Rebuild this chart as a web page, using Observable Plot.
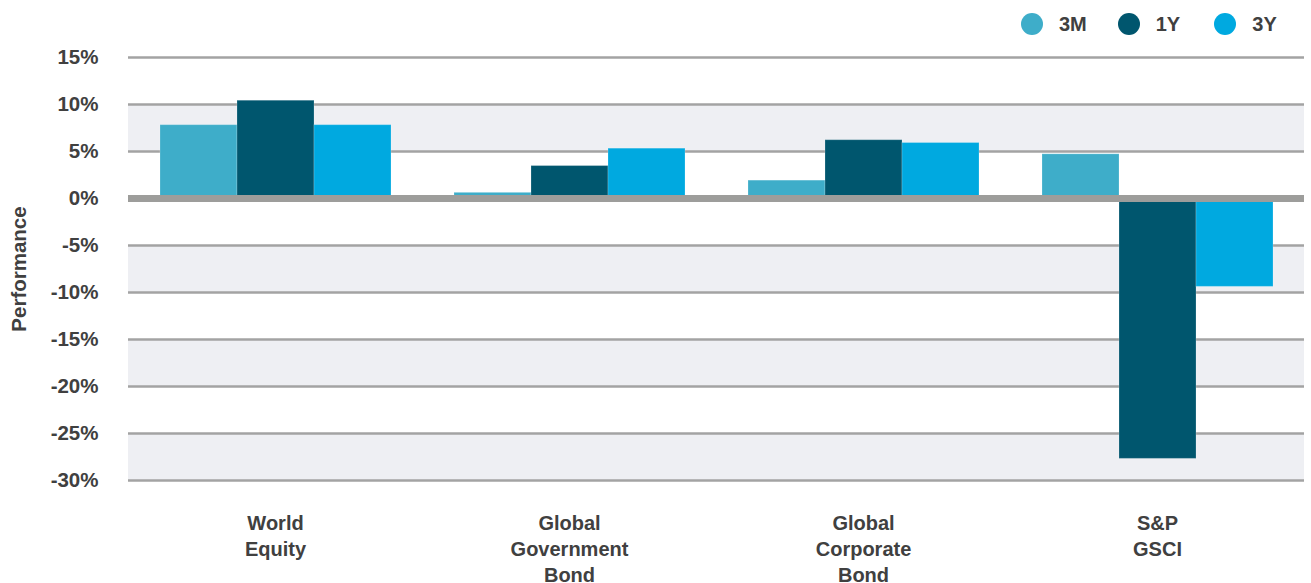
<!DOCTYPE html>
<html>
<head>
<meta charset="utf-8">
<script src="https://cdn.jsdelivr.net/npm/d3@7"></script>
<script src="https://cdn.jsdelivr.net/npm/@observablehq/plot@0.6"></script>
<style>
  body { margin: 0; background: #fff; font-family: "Liberation Sans", Arial, Helvetica, sans-serif; }
  #legend { height: 22px; padding-top: 13px; display: flex; align-items: center; padding-left: 1021px; }
  .item { display: flex; align-items: center; width: 108px; font-weight: bold; font-size: 20px; color: #404040; }
  .swatch { width: 22px; height: 22px; border-radius: 50%; margin-right: 16px; flex: none; }
  #chart svg { display: block; }
</style>
</head>
<body>
<div id="legend"></div>
<div id="chart"></div>
<script>
// Asset classes (multi-line labels) and performance periods
const categories = ["World\nEquity", "Global\nGovernment\nBond", "Global\nCorporate\nBond", "S&P\nGSCI"];
const periods = ["3M", "1Y", "3Y"];
const colors = ["#3eadc9", "#00566e", "#00a9e0"];

// Performance in percent, per asset class
const perf3M = [7.8, 0.6, 1.9, 4.7];
const perf1Y = [10.4, 3.45, 6.2, -27.7];
const perf3Y = [7.8, 5.3, 5.9, -9.4];

// Axis ticks and shaded bands between gridlines
const yTicks = [15, 10, 5, 0, -5, -10, -15, -20, -25, -30];
const bandTops = [10, -5, -15, -25];
const bandBottoms = [5, -10, -20, -30];

const series = [perf3M, perf1Y, perf3Y];
const rows = categories.flatMap((category, i) =>
  periods.map((period, j) => ({category, period, value: series[j][i]}))
);
const bands = bandTops.map((top, i) => ({top, bottom: bandBottoms[i]}));

// Legend
const legend = document.getElementById("legend");
periods.forEach((p, i) => {
  const item = document.createElement("div");
  item.className = "item";
  const sw = document.createElement("span");
  sw.className = "swatch";
  sw.style.background = colors[i];
  const lab = document.createElement("span");
  lab.textContent = p;
  item.append(sw, lab);
  legend.append(item);
});

const chart = Plot.plot({
  width: 1311,
  height: 548,
  marginTop: 22,
  marginBottom: 103,
  marginLeft: 127,
  marginRight: 7,
  style: {fontFamily: '"Liberation Sans", Arial, Helvetica, sans-serif', fontWeight: "bold", color: "#404040", background: "#fff"},
  fx: {domain: categories, padding: 0, label: null},
  x: {domain: periods, paddingInner: 0, paddingOuter: 0.385, axis: null},
  y: {domain: [-30, 15]},
  color: {domain: periods, range: colors},
  marks: [
    Plot.rect(bands, {y1: "top", y2: "bottom", fill: "#eeeff3"}),
    Plot.ruleY(yTicks.filter(v => v !== 0), {stroke: "#a3a3a3", strokeWidth: 2.5}),
    Plot.barY(rows, {fx: "category", x: "period", y: "value", fill: "period", stroke: "#ffffff", strokeOpacity: 0.2, strokeWidth: 1}),
    Plot.ruleY([0], {stroke: "#9d9d9b", strokeWidth: 7}),
    Plot.axisY({
      ticks: yTicks,
      tickFormat: d => d + "%",
      tickSize: 0,
      tickPadding: 30,
      fontSize: 20.5,
      fontWeight: "bold",
      fill: "#404040",
      label: "Performance",
      labelAnchor: "center",
      labelOffset: 117,
      labelArrow: "none"
    }),
    Plot.axisFx({
      anchor: "bottom",
      tickSize: 0,
      tickPadding: 31,
      fontSize: 20,
      fontWeight: "bold",
      fill: "#404040",
      lineHeight: 1.3,
      label: null
    })
  ]
});
document.getElementById("chart").append(chart);
</script>
</body>
</html>
